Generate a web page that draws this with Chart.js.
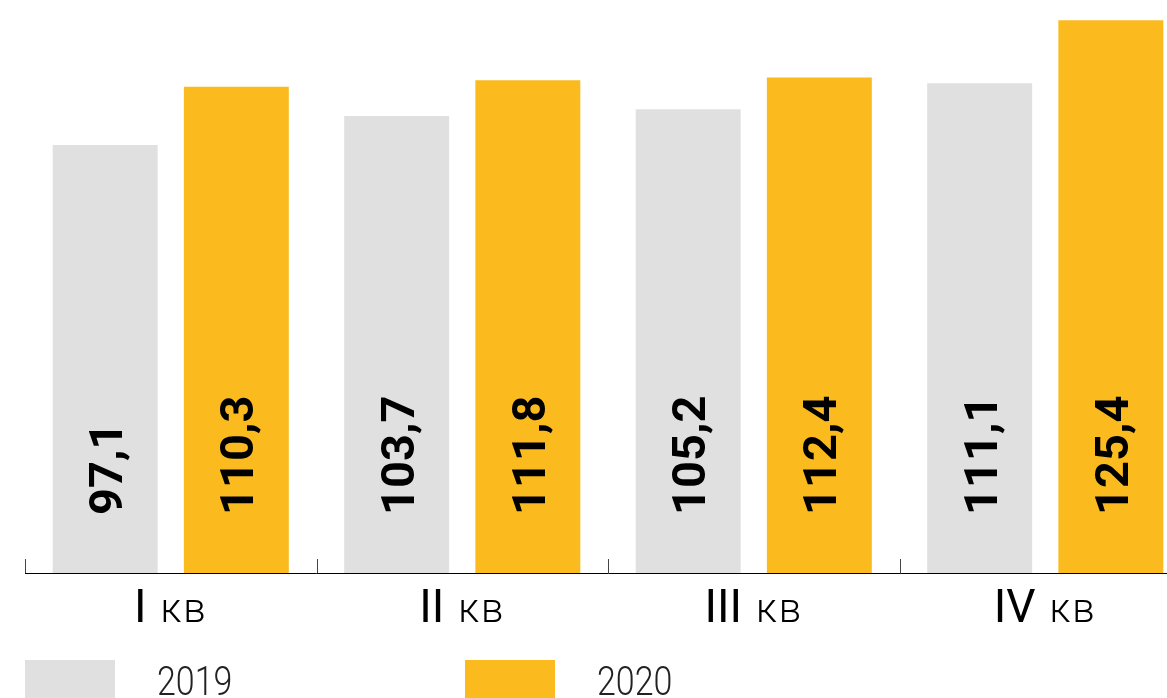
<!DOCTYPE html>
<html>
<head>
<meta charset="utf-8">
<script src="https://cdn.jsdelivr.net/npm/chart.js@4.4.1/dist/chart.umd.min.js"></script>
<style>
  html, body { margin: 0; padding: 0; background: #fff; overflow: hidden; }
  #wrap { position: relative; width: 1191px; height: 698px; }
</style>
</head>
<body>
<div id="wrap"><canvas id="c" width="1191" height="698"></canvas></div>
<script>
// Quarterly values, 2019 vs 2020
const quarters = ['I', 'II', 'III', 'IV'];
const quarterSuffix = 'кв';
const years = ['2019', '2020'];
const values2019 = [97.1, 103.7, 105.2, 111.1];
const values2020 = [110.3, 111.8, 112.4, 125.4];
const seriesColors = ['#E0E0E0', '#FBBA1E'];
const yMax = 130;

const fmt = v => v.toFixed(1).replace('.', ',');

// Rotated bold value written inside each bar, reading bottom-to-top
const barValues = {
  id: 'barValues',
  afterDatasetsDraw(chart) {
    const { ctx, chartArea } = chart;
    ctx.save();
    ctx.font = '700 47px Roboto';
    ctx.fillStyle = '#000';
    ctx.textAlign = 'left';
    ctx.textBaseline = 'alphabetic';
    chart.data.datasets.forEach((ds, di) => {
      chart.getDatasetMeta(di).data.forEach((bar, i) => {
        ctx.save();
        ctx.translate(bar.x, chartArea.bottom - 58);
        ctx.rotate(-Math.PI / 2);
        ctx.fillText(fmt(ds.data[i]), 0, 17);
        ctx.restore();
      });
    });
    ctx.restore();
  }
};

// Short inward tick marks at category boundaries, quarter labels and legend
const axisDecor = {
  id: 'axisDecor',
  afterDraw(chart) {
    const { ctx, chartArea } = chart;
    const xs = chart.scales.x;
    const n = chart.data.labels.length;
    const cat = xs.width / n;

    ctx.save();
    ctx.strokeStyle = '#444';
    ctx.lineWidth = 1;
    for (let i = 0; i < n; i++) {
      const x = Math.round(xs.getPixelForValue(i) - cat / 2) + 0.5;
      ctx.beginPath();
      ctx.moveTo(x, chartArea.bottom);
      ctx.lineTo(x, chartArea.bottom - 14);
      ctx.stroke();
    }

    // quarter labels: roman numeral + "кв"
    ctx.fillStyle = '#000';
    ctx.textBaseline = 'alphabetic';
    ctx.textAlign = 'left';
    const baseY = chartArea.bottom + 49;
    const romanFont = '400 46px Roboto';
    const suffixFont = '300 40px Roboto';
    chart.data.labels.forEach((lab, i) => {
      const cx = xs.getPixelForValue(i);
      ctx.font = romanFont;
      const w1 = ctx.measureText(lab).width;
      ctx.font = suffixFont;
      ctx.letterSpacing = '2px';
      const w2 = ctx.measureText(quarterSuffix).width;
      const gap = 14;
      const x = cx - (w1 + gap + w2) / 2;
      ctx.letterSpacing = '0px';
      ctx.font = romanFont;
      ctx.fillText(lab, x, baseY);
      ctx.font = suffixFont;
      ctx.letterSpacing = '2px';
      ctx.fillText(quarterSuffix, x + w1 + gap, baseY);
      ctx.letterSpacing = '0px';
    });

    // legend
    chart.data.datasets.forEach((ds, di) => {
      const bx = chartArea.left + di * 440;
      const by = chartArea.bottom + 87;
      ctx.fillStyle = ds.backgroundColor;
      ctx.fillRect(bx, by, 90, 40);
      ctx.save();
      ctx.fillStyle = '#222';
      ctx.font = '300 40px Roboto';
      ctx.translate(bx + 132, by + 35);
      ctx.scale(0.85, 1);
      ctx.fillText(ds.label, 0, 0);
      ctx.restore();
    });
    ctx.restore();
  }
};

new Chart(document.getElementById('c'), {
  type: 'bar',
  data: {
    labels: quarters,
    datasets: [
      { label: years[0], data: values2019, backgroundColor: seriesColors[0] },
      { label: years[1], data: values2020, backgroundColor: seriesColors[1] }
    ]
  },
  options: {
    responsive: false,
    devicePixelRatio: 1,
    animation: false,
    layout: { padding: { left: 25, right: 0, top: 0, bottom: 0 } },
    plugins: { legend: { display: false }, tooltip: { enabled: false } },
    datasets: { bar: { categoryPercentage: 0.9, barPercentage: 0.8 } },
    scales: {
      x: {
        offset: true,
        grid: { display: false },
        border: { display: true, color: '#000', width: 1 },
        ticks: { display: false },
        afterFit(scale) { scale.height = 125; }
      },
      y: { display: false, min: 0, max: yMax }
    }
  },
  plugins: [barValues, axisDecor]
});
</script>
</body>
</html>
